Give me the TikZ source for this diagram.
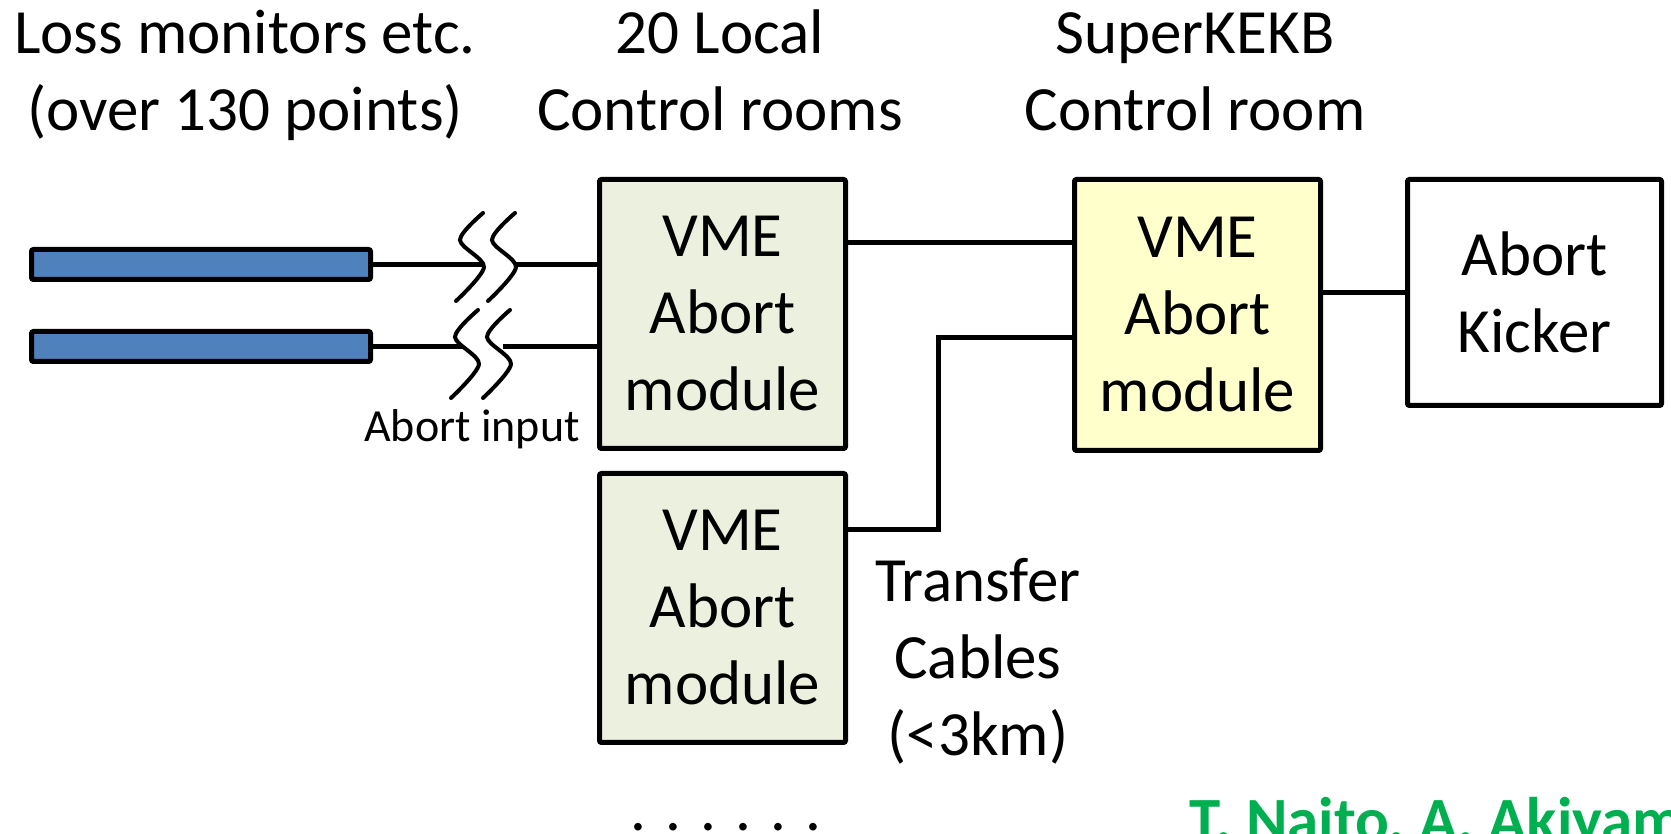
\documentclass[tikz,border=0pt]{standalone}
\usepackage{fontspec}
\setmainfont{Carlito}
\usetikzlibrary{positioning}
\definecolor{barblue}{HTML}{4F81BD}
\definecolor{localfill}{HTML}{EBF1DE}
\definecolor{kekfill}{HTML}{FFFFCC}
\definecolor{authgreen}{HTML}{00B050}
\tikzset{
  big/.style={font=\fontsize{63}{77}\selectfont, align=center},
  small/.style={font=\fontsize{46}{56}\selectfont},
  bar/.style={draw, line width=5pt, fill=barblue, rounded corners=2pt,
              minimum width=339pt, minimum height=30pt, inner sep=0pt},
  mod/.style={draw, line width=5pt, rounded corners=2pt, big, inner sep=0pt,
              minimum width=246pt, minimum height=269pt},
  wire/.style={line width=5pt},
  squig/.style={line width=4pt, line cap=round},
  pics/brk/.style={code={
    \draw[squig] plot[smooth] coordinates {(12,44) (-11,17) (13,-10) (-15,-44)};
    \draw[squig] plot[smooth] coordinates {(44,44) (21,17) (45,-10) (17,-44)};
  }}
}

\begin{document}
\begin{tikzpicture}[x=1pt, y=1pt]
  \useasboundingbox (0,0) rectangle (1671,834);
  \clip (0,0) rectangle (1671,834);
  % headings
  \node[big, anchor=base] (hloss) at (245,703) {Loss monitors etc.\\(over 130 points)};
  \node[big, anchor=base] (hlocal) at (720,703) {20 Local\\Control rooms};
  \node[big, anchor=base] (hkek) at (1195,703) {SuperKEKB\\Control room};
  % loss monitors
  \node[bar] (bar1) at (201,569.5) {};
  \node[bar] (bar2) at (201,487.5) {};
  % abort modules
  \node[mod, fill=localfill] (vme1) at (722.5,520) {VME\\Abort\\module};
  \node[mod, fill=localfill, below=20pt of vme1] (vme2) {VME\\Abort\\module};
  \node[mod, fill=kekfill, minimum height=271pt] (kek) at (1197.5,519) {VME\\Abort\\module};
  \node[mod, minimum width=254pt, minimum height=226pt] (kick) at (1534.5,541.5) {Abort\\Kicker};
  % cable breaks
  \pic at (471,577) {brk};
  \pic at (466,480) {brk};
  \coordinate (g1l) at (483,569.5);
  \coordinate (g1r) at (515,569.5);
  \coordinate (g2l) at (463,487.5);
  \coordinate (g2r) at (503,487.5);
  \draw[wire] (bar1.east) -- (g1l);
  \draw[wire] (g1r) -- (g1r -| vme1.west);
  \draw[wire] (bar2.east) -- (g2l);
  \draw[wire] (g2r) -- (g2r -| vme1.west);
  \node[small, anchor=base] (ain) at (472,392) {Abort input};
  % transfer cables
  \coordinate (bend) at (938,496);
  \draw[wire] ([yshift=-66pt]vme1.north east) -- ([yshift=-66pt]vme1.north east -| kek.west);
  \draw[wire] ([yshift=-59pt]vme2.north east) -| (bend) -- (bend -| kek.west);
  \draw[wire] (kek.east |- kick.west) -- (kick.west);
  \node[big, anchor=base] (xfer) at (978,78) {Transfer\\Cables\\(<3km)};
  \node[big, anchor=base] (more) at (726,3) {. . . . . .};
  \node[big, font=\fontsize{63}{77}\selectfont\bfseries, text=authgreen,
        anchor=base west, inner sep=0pt] (auth) at (1189,-8) {T. Naito, A. Akiyama};
\end{tikzpicture}
\end{document}
